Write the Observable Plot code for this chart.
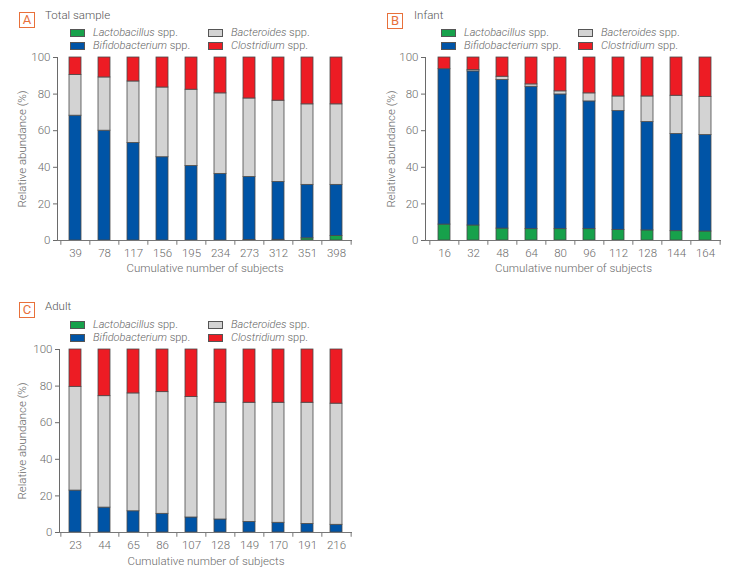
<!DOCTYPE html>
<html>
<head>
<meta charset="utf-8">
<script src="https://cdn.jsdelivr.net/npm/d3@7"></script>
<script src="https://cdn.jsdelivr.net/npm/@observablehq/plot@0.6"></script>
<style>
  html, body { margin: 0; padding: 0; background: #fff; }
  #root { position: relative; width: 748px; height: 578px; font-family: Roboto, "Liberation Sans", sans-serif; color: #666; }
  .tag { position: absolute; width: 14px; height: 14px; border: 1px solid #e8703a; color: #e8703a; font-size: 13px; line-height: 14px; text-align: center; font-weight: 400; }
  .title { position: absolute; font-size: 11.5px; line-height: 12px; color: #555; font-weight: 300; white-space: nowrap; }
  .sw { position: absolute; width: 13px; height: 6px; border: 1px solid #555; }
  .lt { position: absolute; font-size: 11px; color: #666; font-weight: 300; line-height: 12px; white-space: nowrap; }
  .lt i { font-style: italic; }
</style>
</head>
<body>
<div id="root"></div>
<script>
// ---- data ----
const species = ["Lactobacillus", "Bifidobacterium", "Bacteroides", "Clostridium"];
const speciesColors = ["#17a14b", "#0054a6", "#d3d3d3", "#ed1c24"];

const totalSubjects = ["39", "78", "117", "156", "195", "234", "273", "312", "351", "398"];
const totalLacto = [0, 0, 0, 0, 0, 0, 0.3, 0.4, 1.2, 2.5];
const totalBifido = [68.2, 60.0, 53.3, 45.5, 40.7, 36.4, 34.4, 31.6, 29.2, 27.9];
const totalBactero = [22.3, 29.1, 33.6, 38.1, 41.7, 44.0, 42.9, 44.4, 44.0, 44.0];
const totalClostri = [9.5, 10.9, 13.1, 16.4, 17.6, 19.6, 22.4, 23.6, 25.6, 25.6];

const infantSubjects = ["16", "32", "48", "64", "80", "96", "112", "128", "144", "164"];
const infantLacto = [8.7, 8.2, 6.5, 6.2, 6.2, 6.2, 5.8, 5.5, 5.1, 4.9];
const infantBifido = [84.9, 84.2, 81.2, 77.8, 73.6, 69.8, 64.9, 59.2, 53.1, 52.7];
const infantBactero = [0, 0.7, 1.8, 1.3, 1.7, 4.4, 8.0, 14.0, 20.9, 20.9];
const infantClostri = [6.4, 6.9, 10.5, 14.7, 18.5, 19.6, 21.3, 21.3, 20.9, 21.5];

const adultSubjects = ["23", "44", "65", "86", "107", "128", "149", "170", "191", "216"];
const adultLacto = [0, 0, 0, 0, 0, 0, 0, 0, 0, 0];
const adultBifido = [22.9, 13.6, 11.6, 10.2, 8.2, 7.1, 5.8, 5.3, 4.7, 4.2];
const adultBactero = [56.7, 60.9, 64.4, 66.5, 65.8, 63.8, 65.1, 65.6, 66.2, 66.2];
const adultClostri = [20.4, 25.5, 24.0, 23.3, 26.0, 29.1, 29.1, 29.1, 29.1, 29.6];

const yTicks = [0, 20, 40, 60, 80, 100];
const xTitle = "Cumulative number of subjects";
const yTitle = "Relative abundance (%)";

function toRows(cats, series) {
  const rows = [];
  cats.forEach((c, i) => species.forEach((s, j) => rows.push({n: c, species: s, value: series[j][i]})));
  return rows;
}

const root = document.getElementById("root");

function panel({tag, title, cats, series, left, top, width, height, mt, mb, ml, mr, inset, tagPos, titlePos, legPos, yLabelOffset, xTitleDy}) {
  const rows = toRows(cats, series);
  const step = (width - ml - mr - inset) / cats.length;
  const chart = Plot.plot({
    width, height,
    marginTop: mt, marginBottom: mb, marginLeft: ml, marginRight: mr,
    style: {fontFamily: "Roboto, 'Liberation Sans', sans-serif", fontSize: "11.5px", color: "#6a6a6a", fontWeight: 300},
    x: {domain: cats, type: "band", paddingInner: 0.58, paddingOuter: 0.29, insetLeft: inset, tickSize: 0, tickPadding: 8, label: null},
    y: {domain: [0, 100], ticks: yTicks, tickSize: 4, tickPadding: 3, line: true, label: null},
    color: {domain: species, range: speciesColors},
    marks: [
      Plot.barY(rows, {x: "n", y: "value", fill: "species", order: species, stroke: "#4a4a4a", strokeWidth: 0.8}),
      Plot.ruleY([0], {stroke: "#777"}),
      Plot.ruleX(cats, {x: d => d, y1: 0, y2: -2.6, dx: -step / 2, stroke: "#777"}),
      Plot.ruleX(cats.slice(-1), {x: d => d, y1: 0, y2: -2.6, dx: step / 2, stroke: "#777"}),
      Plot.text([xTitle], {text: d => d, frameAnchor: "bottom", textAnchor: "middle", dy: xTitleDy, fontSize: 11.5, fill: "#6a6a6a"}),
      Plot.text([yTitle], {text: d => d, frameAnchor: "left", textAnchor: "middle", rotate: -90, dx: -yLabelOffset, fontSize: 11.5, fill: "#6a6a6a"})
    ]
  });
  chart.style.position = "absolute";
  chart.style.left = left + "px";
  chart.style.top = top + "px";
  root.appendChild(chart);

  const t = document.createElement("div");
  t.className = "tag"; t.textContent = tag;
  t.style.left = tagPos[0] + "px"; t.style.top = tagPos[1] + "px";
  root.appendChild(t);
  const ti = document.createElement("div");
  ti.className = "title"; ti.textContent = title;
  ti.style.left = titlePos[0] + "px"; ti.style.top = titlePos[1] + "px";
  root.appendChild(ti);

  // legend: column 1 = Lactobacillus, Bifidobacterium; column 2 = Bacteroides, Clostridium
  const layout = [[0, 0], [0, 1], [1, 0], [1, 1]];
  species.forEach((s, k) => {
    const [col, row] = layout[k];
    const sx = legPos.cols[col], sy = legPos.rows[row];
    const sw = document.createElement("div");
    sw.className = "sw"; sw.style.background = speciesColors[k];
    sw.style.left = sx + "px"; sw.style.top = sy + "px";
    root.appendChild(sw);
    const lt = document.createElement("div");
    lt.className = "lt";
    lt.innerHTML = "<i>" + s + "</i> spp.";
    lt.style.left = (sx + 23) + "px"; lt.style.top = (sy - 2) + "px";
    root.appendChild(lt);
  });
}

panel({tag: "A", title: "Total sample", cats: totalSubjects,
  series: [totalLacto, totalBifido, totalBactero, totalClostri],
  left: 0, top: 0, width: 374, height: 290, mt: 57, mb: 50, ml: 57, mr: 22, inset: 2,
  tagPos: [19, 12], titlePos: [45, 9], legPos: {cols: [70, 208], rows: [29, 42]}, yLabelOffset: 35, xTitleDy: 31});

panel({tag: "B", title: "Infant", cats: infantSubjects,
  series: [infantLacto, infantBifido, infantBactero, infantClostri],
  left: 374, top: 0, width: 374, height: 290, mt: 57, mb: 50, ml: 51, mr: 27, inset: 3,
  tagPos: [387, 13], titlePos: [414, 9], legPos: {cols: [441, 578], rows: [29, 42]}, yLabelOffset: 34, xTitleDy: 31});

panel({tag: "C", title: "Adult", cats: adultSubjects,
  series: [adultLacto, adultBifido, adultBactero, adultClostri],
  left: 0, top: 300, width: 374, height: 278, mt: 49, mb: 46, ml: 59, mr: 22, inset: 0,
  tagPos: [19, 302], titlePos: [45, 300], legPos: {cols: [70, 208], rows: [321, 334]}, yLabelOffset: 37, xTitleDy: 32});
</script>
</body>
</html>
